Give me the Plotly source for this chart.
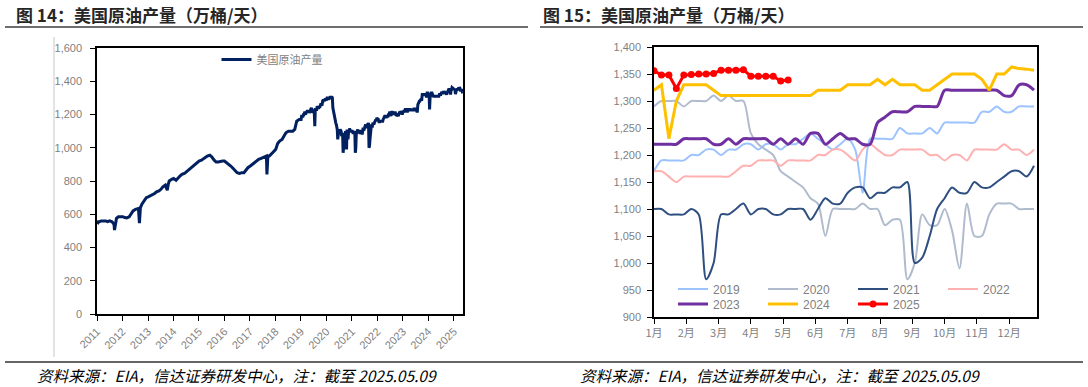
import plotly.graph_objects as go
import pandas as pd

W, H = 1088, 387

# ---------------- Left chart: US crude production 2011-2018 (monthly readings + dips) ----------------
left_dates_early = [
    "2011-01-07", "2011-01-21", "2011-02-04", "2011-03-04", "2011-04-01", "2011-05-06", "2011-06-03",
    "2011-07-01", "2011-08-05", "2011-09-02", "2011-09-09", "2011-09-23", "2011-10-07", "2011-11-04",
    "2011-12-02", "2012-01-06", "2012-02-03", "2012-03-02", "2012-04-06", "2012-05-04", "2012-06-01",
    "2012-07-06", "2012-08-17", "2012-08-31", "2012-09-14", "2012-10-05", "2012-11-02", "2012-12-07",
    "2013-01-04", "2013-02-01", "2013-03-01", "2013-04-05", "2013-05-03", "2013-06-07", "2013-07-05",
    "2013-08-02", "2013-09-06", "2013-10-04", "2013-10-18", "2013-11-01", "2013-12-06", "2014-01-03",
    "2014-02-07", "2014-03-07", "2014-04-04", "2014-05-02", "2014-06-06", "2014-07-04", "2014-08-01",
    "2014-09-05", "2014-10-03", "2014-11-07", "2014-12-05", "2015-01-02", "2015-02-06", "2015-03-06",
    "2015-04-03", "2015-05-01", "2015-06-05", "2015-07-03", "2015-08-07", "2015-09-04", "2015-10-02",
    "2015-11-06", "2015-12-04", "2016-01-01", "2016-02-05", "2016-03-04", "2016-04-01", "2016-05-06",
    "2016-06-03", "2016-07-01", "2016-08-05", "2016-09-02", "2016-10-07", "2016-11-04", "2016-12-02",
    "2017-01-06", "2017-02-03", "2017-03-03", "2017-04-07", "2017-05-05", "2017-06-02", "2017-07-07",
    "2017-08-25", "2017-09-01", "2017-09-15", "2017-10-06", "2017-11-03", "2017-12-01", "2018-01-05",
    "2018-02-02", "2018-03-02", "2018-04-06", "2018-05-04", "2018-06-01", "2018-07-06", "2018-08-03",
    "2018-09-07", "2018-10-05", "2018-11-02", "2018-12-07",
]
left_values_early = [
    540, 555, 555, 560, 560, 560, 555,
    560, 555, 540, 505, 555, 575, 585,
    585, 585, 580, 578, 585, 600, 620,
    630, 635, 547, 640, 660, 680, 700,
    705, 710, 715, 725, 735, 740, 750,
    765, 775, 745, 780, 800, 810, 815,
    805, 820, 830, 840, 845, 855, 865,
    880, 890, 905, 915, 920, 925, 935,
    945, 950, 955, 945, 925, 915, 915,
    920, 920, 920, 910, 900, 890, 875,
    865, 850, 845, 850, 850, 865, 880,
    890, 900, 910, 920, 930, 935, 940,
    950, 840, 950, 950, 965, 975, 990,
    1025, 1040, 1050, 1070, 1090, 1100, 1100,
    1100, 1110, 1160, 1170,
]

# ---------------- Right chart: weekly production by year (万桶/天) ----------------
years = ["2019", "2020", "2021", "2022", "2023", "2024", "2025"]
y2019 = [1170, 1190, 1190, 1190, 1190, 1200, 1200, 1210, 1210, 1200, 1210, 1210, 1220, 1220, 1210, 1220,
         1220, 1210, 1220, 1220, 1230, 1240, 1230, 1220, 1210, 1220, 1230, 1210, 1130, 1230, 1230, 1230,
         1230, 1250, 1240, 1240, 1240, 1250, 1240, 1260, 1260, 1260, 1260, 1260, 1280, 1280, 1290, 1280,
         1280, 1290, 1290, 1290]
y2020 = [1290, 1300, 1300, 1300, 1290, 1300, 1300, 1300, 1310, 1300, 1310, 1300, 1300, 1240, 1220, 1210,
         1200, 1170, 1160, 1150, 1140, 1120, 1110, 1050, 1100, 1100, 1100, 1100, 1110, 1100, 1100, 1070,
         1080, 1080, 970, 1000, 1090, 1070, 1070, 1100, 1060, 990, 1110, 1050, 1050, 1090, 1110, 1110,
         1110, 1100, 1100, 1100]
y2021 = [1100, 1100, 1090, 1090, 1090, 1100, 1090, 970, 1000, 1090, 1090, 1100, 1110, 1090, 1100, 1100,
         1090, 1090, 1100, 1100, 1100, 1080, 1100, 1120, 1110, 1110, 1130, 1140, 1140, 1120, 1130, 1130,
         1140, 1140, 1150, 1000, 1010, 1050, 1100, 1120, 1140, 1130, 1130, 1150, 1140, 1140, 1150, 1160,
         1170, 1170, 1160, 1180]
y2022 = [1170, 1170, 1160, 1150, 1160, 1160, 1160, 1160, 1160, 1160, 1160, 1170, 1180, 1180, 1190, 1190,
         1190, 1180, 1190, 1190, 1190, 1190, 1200, 1200, 1210, 1210, 1200, 1190, 1210, 1220, 1210, 1200,
         1200, 1210, 1210, 1210, 1210, 1200, 1200, 1190, 1200, 1200, 1190, 1210, 1210, 1210, 1210, 1220,
         1210, 1210, 1200, 1210]
y2023 = [1220, 1220, 1220, 1220, 1230, 1230, 1230, 1230, 1220, 1220, 1230, 1220, 1230, 1230, 1230, 1230,
         1220, 1230, 1220, 1230, 1220, 1240, 1240, 1220, 1230, 1240, 1230, 1230, 1220, 1220, 1260, 1270,
         1280, 1280, 1280, 1290, 1290, 1290, 1290, 1320, 1320, 1320, 1320, 1320, 1320, 1320, 1320, 1310,
         1310, 1330, 1330, 1320]
y2024 = [1320, 1330, 1230, 1300, 1330, 1330, 1330, 1330, 1320, 1310, 1310, 1310, 1310, 1310, 1310, 1310,
         1310, 1310, 1310, 1310, 1310, 1310, 1320, 1320, 1320, 1320, 1330, 1330, 1330, 1330, 1340, 1330,
         1340, 1330, 1330, 1330, 1320, 1320, 1330, 1340, 1350, 1350, 1350, 1350, 1340, 1320, 1350, 1350,
         1363, 1360, 1359, 1357]
y2025 = [1356, 1348, 1348, 1323, 1348, 1349, 1350, 1350, 1351, 1357, 1357, 1357, 1358, 1346, 1346, 1346,
         1346, 1337, 1339]
series = [y2019, y2020, y2021, y2022, y2023, y2024, y2025]
colors = ["#9DC3FF", "#B0BCCD", "#2F4F80", "#FFB0B0", "#7030A0", "#FFC000", "#FF0000"]
widths = [2, 2, 2, 2, 3, 3, 3]
shapes_line = ["spline", "spline", "spline", "spline", "spline", "linear", "linear"]
legend_rows = ["legend2", "legend2", "legend2", "legend2", "legend3", "legend3", "legend3"]

month_labels = ["1月", "2月", "3月", "4月", "5月", "6月", "7月", "8月", "9月", "10月", "11月", "12月"]
year_ticks = [str(y) for y in range(2011, 2026)]

# Build left series: early readings + weekly readings of 2019-2025
ld = list(pd.to_datetime(left_dates_early))
lv = list(left_values_early)
for yname, vals in zip(years, series):
    ds = pd.date_range(start=f"{yname}-01-01", periods=len(vals), freq="W-FRI")
    ld += list(ds)
    lv += list(vals)

fig = go.Figure()

fig.add_trace(go.Scatter(
    x=ld, y=lv, mode="lines", name="美国原油产量",
    line=dict(color="#002060", width=3), xaxis="x", yaxis="y", legend="legend",
))

for yname, vals, c, w, sh, lg in zip(years, series, colors, widths, shapes_line, legend_rows):
    fig.add_trace(go.Scatter(
        x=list(range(len(vals))), y=vals, name=yname,
        mode="lines+markers" if yname == "2025" else "lines",
        marker=dict(size=7, color=c) if yname == "2025" else None,
        line=dict(color=c, width=w, shape=sh, smoothing=0.8 if sh == "spline" else None),
        xaxis="x2", yaxis="y2", legend=lg,
    ))

tick_font = dict(family="Liberation Sans", size=11, color="#7F7F7F")
cjk = "Noto Sans CJK SC"
leg_font = dict(family="Liberation Sans", size=12, color="#7F7F7F")

fig.update_layout(
    width=W, height=H, margin=dict(l=0, r=0, t=0, b=0, autoexpand=False),
    paper_bgcolor="white", plot_bgcolor="white",
    xaxis=dict(
        domain=[97 / W, 463 / W], type="date", range=["2011-01-01", "2025-05-12"],
        tickvals=[f"{y}-01-01" for y in year_ticks], ticktext=year_ticks, tickangle=-45,
        ticks="outside", ticklen=5, tickcolor="#000", showline=True, linecolor="#000", linewidth=1.5,
        mirror=True, showgrid=False, zeroline=False,
        tickfont=dict(family="Liberation Sans", size=11, color="#7F7F7F"),
        anchor="y", automargin=False,
    ),
    yaxis=dict(
        domain=[1 - 314 / H, 1 - 48 / H], range=[0, 1600], dtick=200, tickformat=",",
        ticks="outside", ticklen=5, tickcolor="#000", showline=True, linecolor="#000", linewidth=1.5,
        mirror=True, showgrid=False, zeroline=False, tickfont=tick_font, ticklabelstandoff=6,
        anchor="x", automargin=False,
    ),
    xaxis2=dict(
        domain=[654 / W, 1037 / W], range=[0, 51.4],
        tickvals=[(m * 52 / 12) for m in range(12)], ticktext=month_labels, tickangle=0,
        ticks="outside", ticklen=5, tickcolor="#000", showline=True, linecolor="#000", linewidth=1.5,
        mirror=True, showgrid=False, zeroline=False, tickfont=dict(family=cjk, size=11, color="#7F7F7F"),
        anchor="y2", automargin=False,
    ),
    yaxis2=dict(
        domain=[1 - 317 / H, 1 - 47 / H], range=[900, 1400], dtick=50, tickformat=",",
        ticks="outside", ticklen=5, tickcolor="#000", showline=True, linecolor="#000", linewidth=1.5,
        mirror=True, showgrid=False, zeroline=False, tickfont=tick_font, ticklabelstandoff=4,
        anchor="x2", automargin=False,
    ),
    legend=dict(
        x=272 / W, xanchor="center", y=1 - 45 / H, yanchor="top", orientation="h",
        font=dict(family=cjk, size=11, color="#7F7F7F"), bgcolor="rgba(0,0,0,0)",
    ),
    legend2=dict(
        x=673 / W, xanchor="left", y=1 - 289 / H, yanchor="middle", orientation="h",
        entrywidth=45, entrywidthmode="pixels", font=leg_font, bgcolor="rgba(0,0,0,0)",
    ),
    legend3=dict(
        x=673 / W, xanchor="left", y=1 - 304 / H, yanchor="middle", orientation="h",
        entrywidth=45, entrywidthmode="pixels", font=leg_font, bgcolor="rgba(0,0,0,0)",
    ),
    showlegend=True,
)

# Titles
for x0, txt in [(14, "图 14：美国原油产量（万桶/天）"), (541, "图 15：美国原油产量（万桶/天）")]:
    fig.add_annotation(
        x=x0 / W, y=1 - 15 / H, xref="paper", yref="paper", xanchor="left", yanchor="middle",
        text=f"<b>{txt}</b>", showarrow=False, font=dict(family=cjk, size=17, color="#262626"),
    )

# Source notes
for x0 in [35, 578]:
    fig.add_annotation(
        x=x0 / W, y=1 - 375 / H, xref="paper", yref="paper", xanchor="left", yanchor="middle",
        text="资料来源：EIA，信达证券研发中心，注：截至 2025.05.09", showarrow=False,
        font=dict(family=cjk, size=15.5, color="#000", style="italic"),
    )

# Rules
fig.add_shape(type="line", xref="paper", yref="paper", x0=5 / W, x1=528 / W, y0=1 - 27 / H, y1=1 - 27 / H,
              line=dict(color="#6E6E6E", width=2))
fig.add_shape(type="line", xref="paper", yref="paper", x0=540 / W, x1=1083 / W, y0=1 - 27 / H, y1=1 - 27 / H,
              line=dict(color="#6E6E6E", width=2))
fig.add_shape(type="line", xref="paper", yref="paper", x0=5 / W, x1=1083 / W, y0=1 - 362 / H, y1=1 - 362 / H,
              line=dict(color="#333333", width=1.5))
fig.add_shape(type="line", xref="paper", yref="paper", x0=54 / W, x1=54 / W, y0=1 - 37 / H, y1=1 - 357 / H,
              line=dict(color="#C8C8C8", width=1))

fig.write_html(
    "out.html",
    config={"displayModeBar": False},
    post_script="document.body.style.margin='0';document.body.style.overflow='hidden';",
)
